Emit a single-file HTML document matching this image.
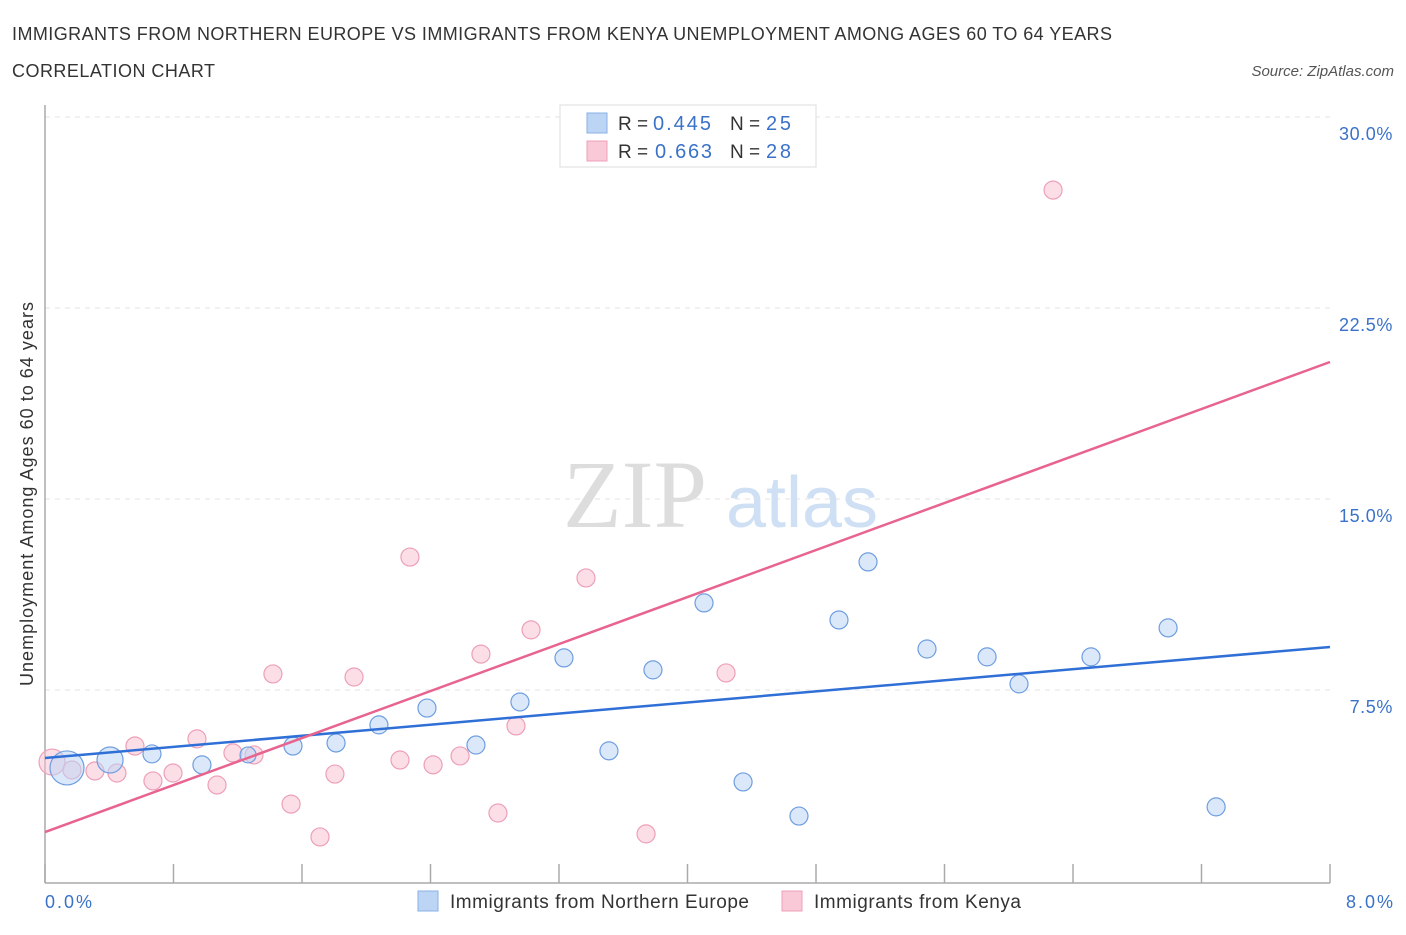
<!DOCTYPE html>
<html><head><meta charset="utf-8"><style>
body{margin:0;background:#fff;font-family:"Liberation Sans",sans-serif;}
</style></head><body>
<svg id="chart" width="1406" height="930" xmlns="http://www.w3.org/2000/svg" font-family="Liberation Sans, sans-serif">
<text x="12" y="40" font-size="18" fill="#333" textLength="1100" lengthAdjust="spacing">IMMIGRANTS FROM NORTHERN EUROPE VS IMMIGRANTS FROM KENYA UNEMPLOYMENT AMONG AGES 60 TO 64 YEARS</text>
<text x="12" y="77" font-size="18" fill="#333" textLength="203" lengthAdjust="spacing">CORRELATION CHART</text>
<text x="1394" y="76" font-size="15" fill="#555" text-anchor="end" font-style="italic">Source: ZipAtlas.com</text>
<g id="grid"></g>
<g>
<text x="635" y="527" font-size="96" fill="#ddd" font-family="Liberation Serif, serif" text-anchor="middle">ZIP</text>
<text x="802" y="527" font-size="72" fill="#cfe0f5" text-anchor="middle">atlas</text>
</g>
<line x1="45" y1="105" x2="45" y2="883" stroke="#aaa" stroke-width="1.5"/>
<line x1="45" y1="883" x2="1330" y2="883" stroke="#aaa" stroke-width="1.5"/>
<g id="ticks"></g>
<g id="ylabels"></g>
<text transform="translate(33,494) rotate(-90)" font-size="18" fill="#333" text-anchor="middle" textLength="384" lengthAdjust="spacing">Unemployment Among Ages 60 to 64 years</text>
<text x="45" y="908" font-size="18" fill="#3a72c9" textLength="47">0.0%</text>
<text x="1346" y="908" font-size="18" fill="#3a72c9" textLength="47">8.0%</text>
<g id="pts"></g>
<g id="trend"></g>
<g>
<rect x="560" y="105" width="256" height="62" fill="#fff" stroke="#ddd"/>
<rect x="587" y="113" width="20" height="20" fill="#bcd5f5" stroke="#8ab0e6"/>
<rect x="587" y="141" width="20" height="20" fill="#f9c9d8" stroke="#eea0b8"/>
<text x="618" y="130" font-size="19" fill="#333">R = </text><text x="653" y="130" font-size="20" fill="#3a72c9" textLength="58">0.445</text>
<text x="730" y="130" font-size="19" fill="#333">N = </text><text x="766" y="130" font-size="20" fill="#3a72c9" textLength="25">25</text>
<text x="618" y="158" font-size="19" fill="#333">R = </text><text x="655" y="158" font-size="20" fill="#3a72c9" textLength="57">0.663</text>
<text x="730" y="158" font-size="19" fill="#333">N = </text><text x="766" y="158" font-size="20" fill="#3a72c9" textLength="25">28</text>
</g>
<g>
<rect x="418" y="891" width="20" height="20" fill="#bcd5f5" stroke="#8ab0e6"/>
<text x="450" y="908" font-size="19" fill="#333" textLength="299" lengthAdjust="spacing">Immigrants from Northern Europe</text>
<rect x="782" y="891" width="20" height="20" fill="#f9c9d8" stroke="#eea0b8"/>
<text x="814" y="908" font-size="19" fill="#333" textLength="207" lengthAdjust="spacing">Immigrants from Kenya</text>
</g>
</svg>
<script>
const yTicks=[7.5,15,22.5,30];
const yTickLabels=["7.5%","15.0%","22.5%","30.0%"];
const xTickVals=[0,0.8,1.6,2.4,3.2,4.0,4.8,5.6,6.4,7.2,8.0];
const blueX=[0.137,0.405,0.666,0.977,1.264,1.544,1.812,2.079,2.378,2.683,2.957,3.231,3.511,3.785,4.103,4.346,4.694,4.943,5.124,5.491,5.865,6.064,6.512,6.992,7.291];
const blueY=[4.44,4.75,4.99,4.56,4.95,5.30,5.42,6.13,6.79,5.34,7.03,8.76,5.11,8.29,10.92,3.89,2.55,10.25,12.53,9.11,8.80,7.74,8.80,9.94,2.91];
const blueR=[17,13,9,9,8,9,9,9,9,9,9,9,9,9,9,9,9,9,9,9,9,9,9,9,9];
const pinkX=[0.044,0.168,0.311,0.448,0.560,0.672,0.797,0.946,1.071,1.170,1.301,1.419,1.532,1.712,1.805,1.924,2.210,2.272,2.416,2.584,2.714,2.820,2.932,3.026,3.368,3.742,4.240,6.276];
const pinkY=[4.67,4.36,4.32,4.24,5.30,3.93,4.24,5.58,3.77,5.03,4.95,8.13,3.02,1.73,4.20,8.01,4.75,12.72,4.56,4.91,8.91,2.67,6.09,9.86,11.90,1.85,8.17,27.13];
const pinkR=[13,9,9,9,9,9,9,9,9,9,9,9,9,9,9,9,9,9,9,9,9,9,9,9,9,9,9,9];
const blueTrend=[4.83,9.19];
const pinkTrend=[1.92,20.38];
const NS='http://www.w3.org/2000/svg';
const sx=v=>45+v/8*1285, sy=v=>881-v/7.5*191;
function mk(t,a,p){const e=document.createElementNS(NS,t);for(const k in a)e.setAttribute(k,a[k]);document.getElementById(p).appendChild(e);return e;}
yTicks.forEach((v,i)=>{
 const l=mk('line',{x1:45,x2:1330,y1:sy(v),y2:sy(v),stroke:'#e3e3e3','stroke-dasharray':'5,5'},'grid');
 
 
 const t=mk('text',{x:1393,y:sy(v)+23,'font-size':18,fill:'#3a72c9','text-anchor':'end','letter-spacing':'0.6'},'ylabels');
 t.textContent=yTickLabels[i];
 
 
});
xTickVals.forEach(v=>{
 const l=mk('line',{x1:sx(v),x2:sx(v),y1:864,y2:883,stroke:'#aaa','stroke-width':1.5},'ticks');
 
 
});
pinkX.forEach((v,i)=>{
 const c=mk('circle',{cx:sx(v),cy:sy(pinkY[i]),r:pinkR[i],fill:'rgba(249,190,208,0.5)',stroke:'#eda0b8','stroke-width':1.2},'pts');
 
 
});
blueX.forEach((v,i)=>{
 const c=mk('circle',{cx:sx(v),cy:sy(blueY[i]),r:blueR[i],fill:'rgba(188,213,245,0.55)',stroke:'#6f9ee0','stroke-width':1.2},'pts');
 
 
});
const tb=mk('line',{x1:sx(0),x2:sx(8),y1:sy(blueTrend[0]),y2:sy(blueTrend[1]),stroke:'#2f6fd6','stroke-width':2.5},'trend');


const tp=mk('line',{x1:sx(0),x2:sx(8),y1:sy(pinkTrend[0]),y2:sy(pinkTrend[1]),stroke:'#e8648e','stroke-width':2.5},'trend');


</script>
</body></html>
